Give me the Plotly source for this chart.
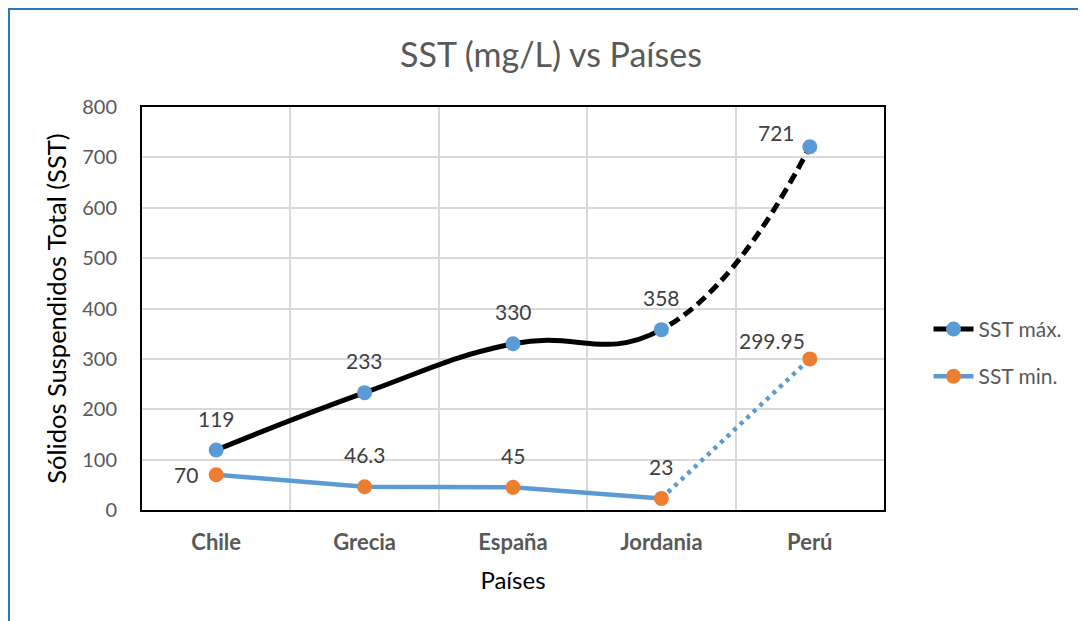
import plotly.graph_objects as go

paises = ["Chile", "Grecia", "España", "Jordania", "Perú"]
sst_max = [119, 233, 330, 358, 721]
sst_min = [70, 46.3, 45, 23, 299.95]
max_labels = ["119", "233", "330", "358", "721"]
min_labels = ["70", "46.3", "45", "23", "299.95"]

FONT = "Lato"
BLUE = "#5B9BD5"
ORANGE = "#ED7D31"
GRAY = "#595959"
LBL = "#404040"

dash_pattern = "472px,5px," + ",".join(["11px,6px"] * 18)

fig = go.Figure()

fig.add_trace(go.Scatter(
    x=paises, y=sst_max, name="SST máx.", mode="lines+markers",
    line=dict(color="black", width=5, shape="spline", smoothing=1.3, dash=dash_pattern),
    marker=dict(color=BLUE, size=15),
    legendgroup="a",
))
fig.add_trace(go.Scatter(
    x=paises[:4], y=sst_min[:4], mode="lines", showlegend=False,
    line=dict(color=BLUE, width=4.5), hoverinfo="skip",
))
fig.add_trace(go.Scatter(
    x=paises[3:], y=sst_min[3:], mode="lines", showlegend=False,
    line=dict(color=BLUE, width=4.5, dash="4px,5px"), hoverinfo="skip",
))
fig.add_trace(go.Scatter(
    x=paises, y=sst_min, name="SST min.", mode="markers",
    marker=dict(color=ORANGE, size=15),
    legendgroup="b", showlegend=False,
))
fig.add_trace(go.Scatter(
    x=[None], y=[None], name="SST min.", mode="lines+markers",
    line=dict(color=BLUE, width=4.5), marker=dict(color=ORANGE, size=15),
    legendgroup="b", showlegend=True,
))

# data labels (offsets in pixels from each point)
max_shift = [(0, 32), (0, 32), (0, 32), (0, 32), (-33, 14)]
min_shift = [(-30, 0), (0, 32), (0, 32), (0, 32), (-38, 18)]
annotations = []
for xs, ys, labels, shifts in [(paises, sst_max, max_labels, max_shift),
                                (paises, sst_min, min_labels, min_shift)]:
    for xv, yv, t, (dx, dy) in zip(xs, ys, labels, shifts):
        annotations.append(dict(x=xv, y=yv, text=t, showarrow=False,
                                xshift=dx, yshift=dy, xanchor="center", yanchor="middle",
                                font=dict(family=FONT, size=21, color=LBL)))

fig.update_layout(
    width=1086, height=621,
    margin=dict(l=134, r=210, t=99, b=119),
    paper_bgcolor="white", plot_bgcolor="white",
    font=dict(family=FONT, color=GRAY),
    title=dict(text="SST (mg/L) vs Países", x=0.5, xref="container", xanchor="center",
               y=0.924, yanchor="middle",
               font=dict(family=FONT, size=34, color=GRAY)),
    showlegend=True,
    legend=dict(x=1.06, xanchor="left", y=0.39, yanchor="middle",
                font=dict(family=FONT, size=21, color=GRAY),
                tracegroupgap=17, traceorder="grouped", itemwidth=40),
    annotations=annotations,
    xaxis=dict(
        type="category", range=[-0.5, 4.5], tickson="boundaries",
        showgrid=True, gridcolor="#D9D9D9", gridwidth=1.5,
        showline=True, linecolor="black", linewidth=2, mirror=True,
        ticks="", ticklabelstandoff=12,
        tickfont=dict(family=FONT, size=22, color=GRAY, weight="bold"),
        title=dict(text="Países", font=dict(family=FONT, size=24, color="black"), standoff=18),
    ),
    yaxis=dict(
        range=[0, 800], dtick=100,
        showgrid=True, gridcolor="#D9D9D9", gridwidth=1.5,
        showline=True, linecolor="black", linewidth=2, mirror=True,
        ticks="", ticklabelstandoff=19, zeroline=False,
        tickfont=dict(family=FONT, size=20, color=GRAY),
        title=dict(text="Sólidos Suspendidos Total (SST)", font=dict(family=FONT, size=25.5, color="black"), standoff=8),
    ),
    shapes=[dict(type="rect", xref="paper", yref="paper",
                 x0=(9 - 142) / 742, x1=(1085 - 142) / 742,
                 y0=(510 - 640) / 403, y1=(510 - 9) / 403,
                 line=dict(color="#2E75B6", width=2), fillcolor="rgba(0,0,0,0)", layer="below")],
)

fig.write_html("out.html")
